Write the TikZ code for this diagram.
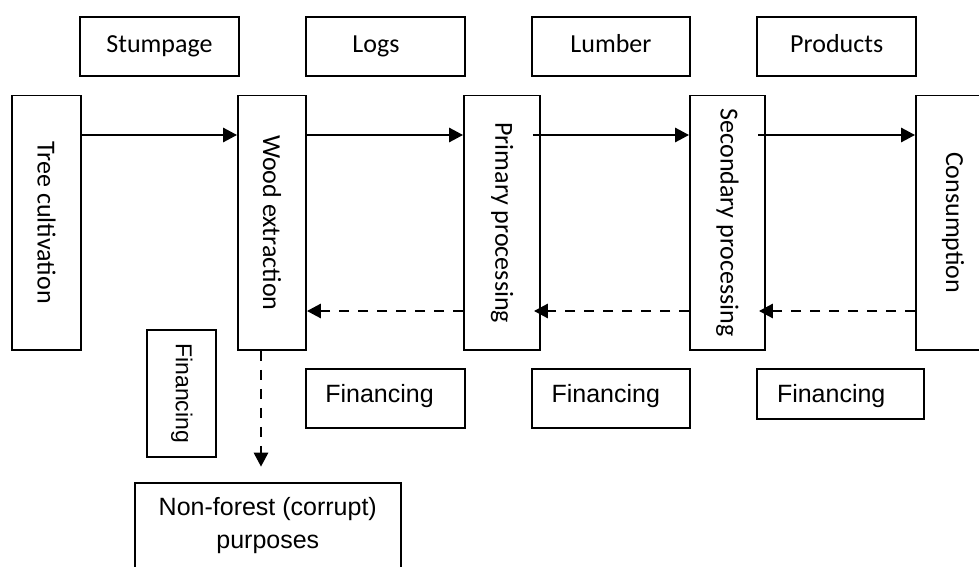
\documentclass[tikz,border=0pt]{standalone}
\usepackage{fontspec}
\setmainfont{Carlito}
\newfontfamily\arialfont{Liberation Sans}
\usetikzlibrary{arrows.meta,calc}

\begin{document}
\begin{tikzpicture}[x=1pt,y=-1pt,
  box/.style={draw, line width=1.8pt, inner sep=0pt},
  stage/.style={box, minimum height=254.5pt, font=\fontsize{26}{31}\selectfont},
  good/.style={box, minimum width=159pt, minimum height=59pt,
    text height=18pt, text depth=6pt, font=\fontsize{26}{31}\selectfont},
  fin/.style={inner sep=0pt, font=\arialfont\fontsize{25}{33}\selectfont},
  flow/.style={line width=2.8pt, -{Triangle[length=14pt,width=14pt]}},
  money/.style={line width=2.8pt, dash pattern=on 10pt off 9pt, -{Triangle[length=14pt,width=14pt]}},
]
\useasboundingbox (0,0) rectangle (979,567);
\fill[white] (0,0) rectangle (979,567);

\begin{scope}
\clip (0,0) rectangle (979,567);

% goods traded between stages
\node[good] (stump) at (159.5,46.5) {Stumpage};
\node[good] (logs) at (385.5,46.5) {Logs\kern19pt};
\node[good, minimum width=158.6pt] (lumber) at (611,46.5) {Lumber};
\node[good, minimum width=158.7pt] (products) at (836.7,46.5) {Products};

% stages of the chain
\node[stage, minimum width=69pt] (tree) at (46.5,222.75) {\rotatebox{-90}{Tree cultivation}};
\node[stage, minimum width=68pt] (wood) at (272,222.75) {\rotatebox{-90}{Wood extraction}};
\node[stage, minimum width=76pt] (prim) at (502,222.75) {\rotatebox{-90}{Primary processing}};
\node[stage, minimum width=75pt] (sec) at (727.5,222.75) {\rotatebox{-90}{Secondary processing}};
\node[stage, minimum width=74pt] (cons) at (953,222.75) {\rotatebox{-90}{Consumption}};

% rows of the connectors
\coordinate (fwd) at (0,135);
\coordinate (back) at (0,311);

% flow of wood
\draw[flow] (tree.east |- fwd) -- (wood.west |- fwd);
\draw[flow] (wood.east |- fwd) -- (prim.west |- fwd);
\draw[flow] ($(prim.east |- fwd)+(-8,0)$) -- (sec.west |- fwd);
\draw[flow] ($(sec.east |- fwd)+(-7.5,0)$) -- (cons.west |- fwd);

% flow of money
\draw[money] (prim.west |- back) -- (wood.east |- back);
\draw[money] (sec.west |- back) -- ($(prim.east |- back)+(-7,0)$);
\draw[money] (cons.west |- back) -- ($(sec.east |- back)+(-7,0)$);

% financing boxes
\node[box, minimum width=159pt, minimum height=59pt] (fin1) at (385.5,398.5) {};
\node[fin, anchor=base west] (fin1t) at ($(fin1.north west)+(20,34.3)$) {Financing};
\node[box, minimum width=158.6pt, minimum height=59pt] (fin2) at (611,398.5) {};
\node[fin, anchor=base west] (fin2t) at ($(fin2.north west)+(20.6,34.3)$) {Financing};
\node[box, minimum width=167pt, minimum height=50pt] (fin3) at (840.8,394) {};
\node[fin, anchor=base west] (fin3t) at ($(fin3.north west)+(20.4,34.3)$) {Financing};

\node[box, minimum width=68.7pt, minimum height=126.7pt,
      font=\arialfont\fontsize{23}{28}\selectfont] (finv) at (181.7,393.3)
      {\rotatebox{-90}{Financing}};

% diversion of funds
\node[box, minimum width=265.7pt, minimum height=100pt, anchor=north] (nonforest) at (267.8,482.3) {};
\node[fin, align=center] (nonforestt) at ($(nonforest.north)+(0,43.5)$) {Non-forest (corrupt)\\purposes};

\coordinate (woodout) at ($(wood.south)+(-11,0)$);
\coordinate (divert) at (261,466.7);
\draw[money] (woodout) -- (divert);
\end{scope}
\end{tikzpicture}
\end{document}
